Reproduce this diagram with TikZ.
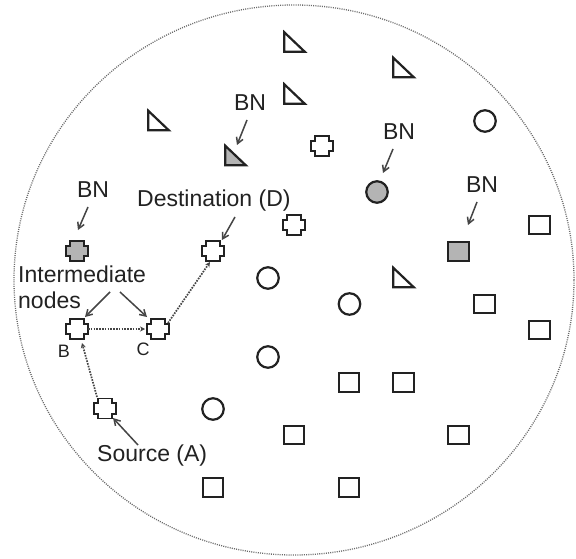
\documentclass[tikz,border=0pt]{standalone}
\usepackage{fontspec}
\setmainfont{Liberation Sans}
\usetikzlibrary{arrows.meta,calc}
\definecolor{ink}{HTML}{222222}
\definecolor{fillg}{HTML}{B4B4B4}
\definecolor{arr}{HTML}{454545}
\definecolor{rim}{HTML}{6A6A6A}
\begin{document}
\begin{tikzpicture}[x=1pt,y=-1pt,
 shapeline/.style={draw=ink,line width=2.2pt,line join=miter},
 circ/.style={circle,shapeline,minimum size=21.5pt,inner sep=0pt,fill=#1},
 circ/.default=white,
 sq/.style={rectangle,shapeline,minimum width=20.5pt,minimum height=18.5pt,inner sep=0pt,fill=#1},
 sq/.default=white,
 spot/.style={rectangle,minimum width=23pt,minimum height=21pt,inner sep=0pt},
 lbl/.style={text=ink,font=\fontsize{23}{26}\selectfont,inner sep=0pt},
 small/.style={text=ink,font=\fontsize{18}{20}\selectfont,inner sep=0pt},
 pointer/.style={draw=arr,line width=1.5pt,-{Straight Barb[length=6pt,width=7pt,line width=1.5pt]}},
 hop/.style={draw=arr,line width=1.7pt,dash pattern=on 1.6pt off 1.2pt,-{Stealth[length=5pt,width=5pt]}},
 pics/tri/.style={code={\draw[shapeline,fill=#1] (-10.3,-9.8) -- (-10.3,9.8) -- (10.3,9.8) -- cycle;}},
 pics/plus/.style={code={\draw[draw=ink,line width=1.8pt,fill=#1] (-6.8,-10) -- (6.8,-10) -- (6.8,-5.2) -- (11,-5.2) -- (11,5.2) -- (6.8,5.2) -- (6.8,10) -- (-6.8,10) -- (-6.8,5.2) -- (-11,5.2) -- (-11,-5.2) -- (-6.8,-5.2) -- cycle;}},
]
\useasboundingbox (0,0) rectangle (576,559);
\fill[white] (0,0) rectangle (576,559);
% network area
\draw[rim,line width=1.3pt,dash pattern=on 1pt off 1.2pt] (294,280) ellipse [x radius=280pt, y radius=275pt];

% triangles
\node[spot] (t1) at (294.5,42) {};   \pic at (t1) {tri=white};
\node[spot] (t2) at (403.5,67.5) {}; \pic at (t2) {tri=white};
\node[spot] (t3) at (294.5,94) {};   \pic at (t3) {tri=white};
\node[spot] (t4) at (158.5,120.5) {};\pic at (t4) {tri=white};
\node[spot] (t5) at (235.5,155.5) {};\pic at (t5) {tri=fillg};
\node[spot] (t6) at (403.5,277.5) {};\pic at (t6) {tri=white};

% circles
\node[circ] (c1) at (485,121) {};
\node[circ=fillg] (c2) at (377,192) {};
\node[circ] (c3) at (268,278) {};
\node[circ] (c4) at (349.5,304) {};
\node[circ] (c5) at (268,357) {};
\node[circ] (c6) at (213,409) {};

% squares
\node[sq] (s1) at (539.5,225) {};
\node[sq=fillg] (s2) at (458.5,251.5) {};
\node[sq] (s3) at (484.5,304) {};
\node[sq] (s4) at (539.5,330) {};
\node[sq] (s5) at (349,382.5) {};
\node[sq] (s6) at (403.5,382.5) {};
\node[sq] (s7) at (294,435) {};
\node[sq] (s8) at (458.5,435) {};
\node[sq] (s9) at (213,487.5) {};
\node[sq] (s10) at (349,487.5) {};

% crosses
\node[spot] (x1) at (322,146) {}; \pic at (x1) {plus=white};
\node[spot] (x2) at (294,225) {}; \pic at (x2) {plus=white};
\node[spot] (x3) at (77,251) {};  \pic at (x3) {plus=fillg};
\node[spot] (xd) at (213,251) {}; \pic at (xd) {plus=white};
\node[spot] (xb) at (77,329) {};  \pic at (xb) {plus=white};
\node[spot] (xc) at (158,329) {}; \pic at (xc) {plus=white};
\node[spot] (xa) at (105,408.5) {}; \pic at (xa) {plus=white};

% labels
\node[lbl,anchor=base] (bn1) at (250,111) {BN};
\node[lbl,anchor=base] (bn2) at (399,140) {BN};
\node[lbl,anchor=base] (bn3) at (93,197) {BN};
\node[lbl,anchor=base] (bn4) at (482,193) {BN};
\node[lbl,anchor=base west] (dest) at (137,207) {Destination (D)};
\node[lbl,anchor=base west] (inter) at (18,282) {Intermediate};
\node[lbl,anchor=base west] (nodes) at (18,308) {nodes};
\node[lbl,anchor=base west] (src) at (97,461) {Source (A)};
\node[small,anchor=base] (lb) at (64,357) {B};
\node[small,anchor=base] (lc) at (143,355) {C};

% pointer arrows
\draw[pointer] ($(bn1.base)+(-3,9)$) -- ($(t5)+(1.5,-10.5)$);
\draw[pointer] ($(bn2.base)+(-6,9)$) -- ($(c2)+(6,-19)$);
\draw[pointer] ($(bn3.base)+(-5,10)$) -- ($(x3)+(1,-21)$);
\draw[pointer] ($(bn4.base)+(-5,9)$) -- ($(s2)+(9.5,-26.5)$);
\draw[pointer] ($(dest.base west)+(98,10)$) -- ($(xd)+(9,-11)$);
\draw[pointer] ($(inter.base west)+(92,10)$) -- ($(xb)+(8,-12)$);
\draw[pointer] ($(inter.base west)+(102,10)$) -- ($(xc)+(-11,-12)$);
\draw[pointer] ($(src.base west)+(41,-16)$) -- ($(xa)+(8,9.5)$);

% route hops
\draw[hop] ($(xa)+(-8,-11.5)$) -- ($(xb)+(5,14)$);
\draw[hop] ($(xb)+(11,0)$) -- ($(xc)+(-13,0)$);
\draw[hop] ($(xc)+(10,-6)$) -- ($(xd)+(-3,11)$);
\end{tikzpicture}
\end{document}
